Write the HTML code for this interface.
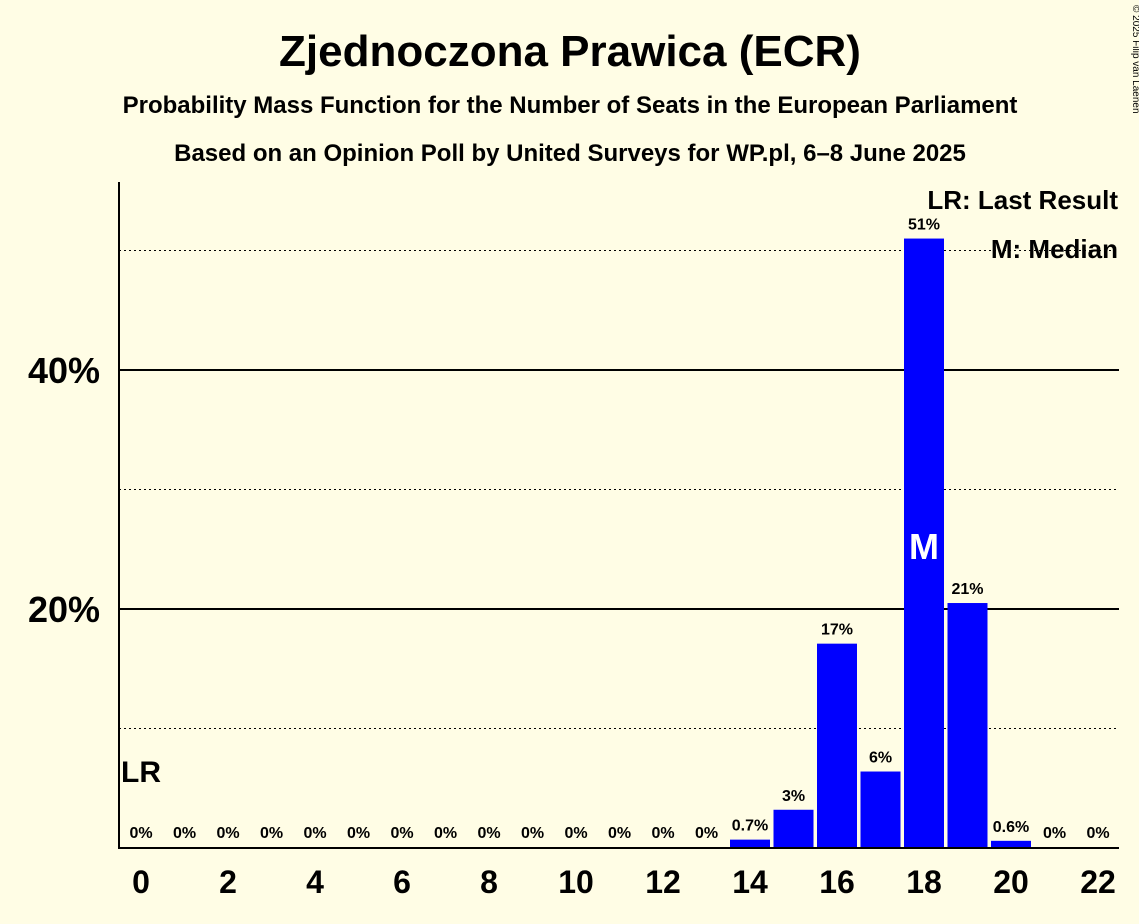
<!DOCTYPE html>
<html><head><meta charset="utf-8"><style>
body{margin:0;background:#fffde5;font-family:"Liberation Sans",sans-serif;}
svg{display:block}
</style></head><body>
<svg width="1139" height="924">
<rect width="1139" height="924" fill="#fffde5"/>
<text x="570" y="66" text-anchor="middle" font-size="44" font-weight="bold">Zjednoczona Prawica (ECR)</text>
<text x="570" y="113" text-anchor="middle" font-size="24" font-weight="bold">Probability Mass Function for the Number of Seats in the European Parliament</text>
<text x="570" y="161" text-anchor="middle" font-size="24" font-weight="bold">Based on an Opinion Poll by United Surveys for WP.pl, 6–8 June 2025</text>
<text x="1133" y="5" font-size="10" transform="rotate(90 1133 5)">© 2025 Filip van Laenen</text>
<g id="grid"></g>
<g id="bars"></g>
<line x1="119" y1="182" x2="119" y2="849" stroke="#000" stroke-width="2"/>
<line x1="118" y1="848" x2="1119" y2="848" stroke="#000" stroke-width="2"/>
<text x="121" y="782" font-size="30" font-weight="bold">LR</text>
<text x="1118" y="209" text-anchor="end" font-size="26" font-weight="bold">LR: Last Result</text>
<text x="1118" y="258" text-anchor="end" font-size="26" font-weight="bold">M: Median</text>
</svg>
<script>
const seats=[0,1,2,3,4,5,6,7,8,9,10,11,12,13,14,15,16,17,18,19,20,21,22];
const probs=[0,0,0,0,0,0,0,0,0,0,0,0,0,0,0.7,3.2,17.1,6.4,51,20.5,0.6,0,0];
const labels=["0%","0%","0%","0%","0%","0%","0%","0%","0%","0%","0%","0%","0%","0%","0.7%","3%","17%","6%","51%","21%","0.6%","0%","0%"];
const yTicks=[20,40];
const yMinor=[10,30,50];
const xTicks=[0,2,4,6,8,10,12,14,16,18,20,22];
const medianSeat=18;
const NS="http://www.w3.org/2000/svg";
const xS=s=>141+s*43.5;
const yS=v=>848-v*11.95;
function mk(t,a,p){const e=document.createElementNS(NS,t);for(const k in a)e.setAttribute(k,a[k]);p.appendChild(e);return e;}
const g=document.getElementById('grid'),b=document.getElementById('bars'),svg=document.querySelector('svg');
yMinor.forEach(v=>{const l=mk('line',{x1:119,x2:1119,y1:yS(v),y2:yS(v),stroke:'#000','stroke-dasharray':'2,3'},g);

});
yTicks.forEach(v=>{const l=mk('line',{x1:119,x2:1119,y1:yS(v),y2:yS(v),stroke:'#000','stroke-width':2},g);


const t=mk('text',{x:100,y:yS(v)+13,'text-anchor':'end','font-size':36,'font-weight':'bold'},svg);t.textContent=v+'%';

});
xTicks.forEach(s=>{const t=mk('text',{x:xS(s),y:893,'text-anchor':'middle','font-size':32,'font-weight':'bold'},svg);t.textContent=s;

});
seats.forEach((s,i)=>{const v=probs[i];
if(v>0){const r=mk('rect',{x:xS(s)-20,y:yS(v),width:40,height:848-yS(v),fill:'#0000ff'},b);

}
const t=mk('text',{x:xS(s),y:v>0?yS(v)-9:838,'text-anchor':'middle','font-size':16,'font-weight':'bold'},svg);t.textContent=labels[i];


if(s===medianSeat){const m=mk('text',{x:xS(s),y:559,'text-anchor':'middle','font-size':36,'font-weight':'bold',fill:'#fff'},svg);m.textContent='M';

}
});
</script>
</body></html>
